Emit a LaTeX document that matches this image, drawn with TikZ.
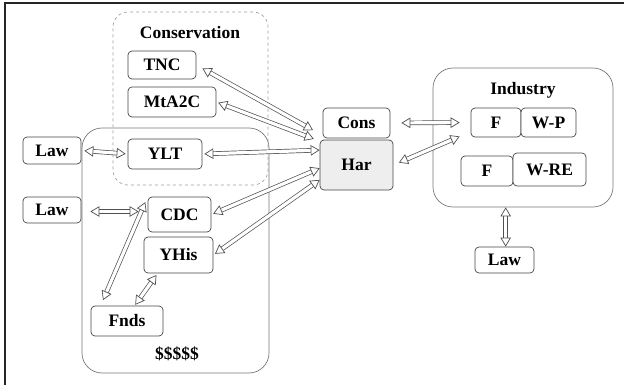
\documentclass[tikz,border=0pt]{standalone}
\usepackage{fontspec}
\setmainfont{Liberation Serif}
\usepackage{xcolor}
\usetikzlibrary{arrows.meta}
\definecolor{boxline}{RGB}{70,70,70}
\definecolor{groupline}{RGB}{120,120,120}
\definecolor{dashline}{RGB}{160,160,160}
\definecolor{arrowline}{RGB}{80,80,80}
\definecolor{harfill}{RGB}{238,238,238}

\begin{document}
\begin{tikzpicture}[x=1pt, y=1pt]
    \tikzstyle{item} = [rectangle, rounded corners=4pt, inner sep=0pt, text centered, draw=boxline, line width=0.7pt, fill=white, font=\fontsize{17.5}{19}\selectfont\bfseries]
    \tikzstyle{group} = [rectangle, rounded corners=20pt, inner sep=0pt, draw=groupline, line width=0.7pt]
    \tikzstyle{title} = [inner sep=0pt, font=\fontsize{17.5}{19}\selectfont\bfseries]
    \tikzstyle{link} = [draw=arrowline, line width=0.7pt, double=white, double distance=3.2pt, {Triangle[fill=white, line width=0.7pt, length=9pt, width=10.5pt]}-{Triangle[fill=white, line width=0.7pt, length=9pt, width=10.5pt]}]

    \useasboundingbox (0,0) rectangle (624,-385);
    \draw [line width=1.4pt, black!85] (5,-385) -- (5,-3) -- (624,-3);

    % Groups
    \node [group, minimum width=187pt, minimum height=245pt] (money) at (175.5,-250.5) {};
    \node [group, rounded corners=15pt, dashed, draw=dashline, minimum width=155pt, minimum height=173pt] (conservation) at (190.5,-98.5) {};
    \node [group, minimum width=180pt, minimum height=139pt] (industry) at (523,-137.5) {};
    \node [title] (cons_title) at (190,-33) {Conservation};
    \node [title] (money_title) at (177,-354) {\$\$\$\$\$};
    \node [title] (ind_title) at (523,-90) {Industry};

    % Conservation side
    \node [item, minimum width=68pt, minimum height=28pt] (tnc) at (162,-65) {TNC};
    \node [item, minimum width=88pt, minimum height=30pt] (mta2c) at (172,-102) {MtA2C};
    \node [item, minimum width=74pt, minimum height=30pt] (ylt) at (165,-154) {YLT};

    % Funding side
    \node [item, minimum width=63pt, minimum height=35pt] (cdc) at (179.5,-214.5) {CDC};
    \node [item, minimum width=69pt, minimum height=36pt] (yhis) at (178.5,-255) {YHis};
    \node [item, minimum width=72pt, minimum height=30pt] (fnds) at (127,-321) {Fnds};

    % Laws
    \node [item, minimum width=58pt, minimum height=27pt] (law_ylt) at (52,-150.5) {Law};
    \node [item, minimum width=58pt, minimum height=26pt] (law_cdc) at (52,-210) {Law};
    \node [item, minimum width=59pt, minimum height=26pt] (law_ind) at (504.5,-260) {Law};

    % Harvest
    \node [item, fill=harfill, minimum width=73pt, minimum height=50pt] (har) at (356.5,-165) {Har};
    \node [item, minimum width=67pt, minimum height=30pt] (cons) at (356.5,-123) {Cons};

    % Industry
    \node [item, minimum width=50pt, minimum height=29pt] (f_wp) at (496,-122.5) {F};
    \node [item, minimum width=55pt, minimum height=29pt] (wp) at (548.5,-122.5) {W-P};
    \node [item, minimum width=52pt, minimum height=30pt] (f_wre) at (487,-171) {F};
    \node [item, minimum width=73pt, minimum height=33pt] (wre) at (549.5,-169.5) {W-RE};

    % Arrows
    \draw [link, shorten <=7pt, shorten >=3pt] (tnc.east) -- ([shift={(-4pt,8pt)}]har.north west);
    \draw [link, shorten <=2pt, shorten >=2pt] (mta2c.east) -- ([xshift=-4pt]har.north west);
    \draw [link, shorten <=2pt] (ylt.east) -- (har.158);
    \draw [link, shorten <=2pt] (cdc.east) -- (har.185);
    \draw [link, shorten <=2pt] (yhis.east) -- (har.202);
    \draw [link, shorten <=3pt, shorten >=2pt] (law_ylt.east) -- (ylt.west);
    \draw [link, shorten <=9pt, shorten >=9pt] ([yshift=-1.5pt]law_cdc.east) -- ([yshift=-1.5pt]law_cdc.east -| cdc.west);
    \draw [link, shorten <=6pt, shorten >=6pt] (cdc.north west) -- ([xshift=10pt]fnds.north west);
    \draw [link, shorten <=2pt, shorten >=1pt] ([xshift=14pt]yhis.south west) -- ([xshift=44pt]fnds.north west);
    \draw [link, shorten <=11pt, shorten >=11pt] (cons.east) -- (f_wp.west);
    \draw [link, shorten <=6pt, shorten >=12pt] (har.east) -- (f_wp.200);
    \draw [link] ([xshift=1.2pt]law_ind.north) -- ([xshift=1.2pt]law_ind.north |- industry.south);
\end{tikzpicture}
\end{document}
